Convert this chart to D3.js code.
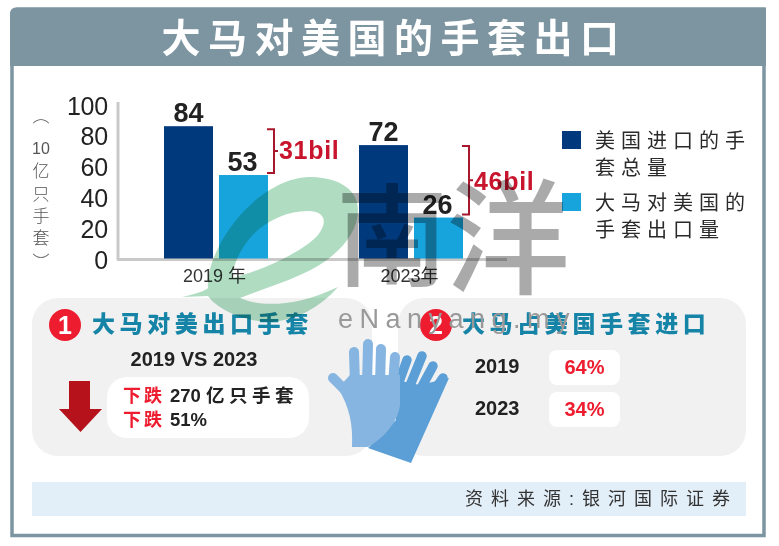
<!DOCTYPE html>
<html><head><meta charset="utf-8">
<script src="https://cdn.jsdelivr.net/npm/d3@7"></script>
<style>html,body{margin:0;background:#fff}svg{display:block}
text{font-family:"Liberation Sans","Noto Sans CJK SC",sans-serif}</style></head>
<body><script>
const titleText = "大马对美国的手套出口";
const categories = ["2019", "2023"];
const categoryLabels = ["2019 年", "2023年"];
const usImports = [84, 72];
const myExports = [53, 26];
const gapLabels = ["31bil", "46bil"];
const yTicks = [0, 20, 40, 60, 80, 100];
const yTitleParts = ["︵", "10", "亿", "只", "手", "套", "︶"];
const legendRows = [["美国进口的手", "套总量"], ["大马对美国的", "手套出口量"]];
const shareYears = ["2019", "2023"];
const shareValues = ["64%", "34%"];
const colors = ["#003a7d", "#17a3dc"];

const svg = d3.select("body").append("svg").attr("width", 779).attr("height", 546);
const red = "#ed1c2e", dark = "#222", teal = "#1584a6", frame = "#7d95a1";
const sp = (sel, v) => sel.style("letter-spacing", v + "px");

// frame + title
svg.append("path").attr("d", "M12 535.500V14Q12 9 17 9H764V535.500Z").attr("fill", "#fff").attr("stroke", frame).attr("stroke-width", 3.500);
svg.append("path").attr("d", "M10 66V14Q10 8 16 8H766V66Z").attr("fill", frame);
svg.append("text").attr("x", 394).attr("y", 52).attr("text-anchor", "middle").attr("fill", "#fff")
  .attr("font-size", 39).attr("font-weight", 700).style("letter-spacing", "7.500px").text(titleText);

// scales
const y = d3.scaleLinear().domain([0, 100]).range([258.500, 101]);
const yLabel = d3.scaleLinear().domain([0, 100]).range([260, 106]);
const x0 = d3.scaleBand().domain(categories).range([119, 509]);
const x1 = d3.scaleBand().domain([0, 1]).range([45, 149]).paddingInner(6 / 55);

// axes
const yAxis = svg.append("g").attr("transform", "translate(110,0)")
  .call(d3.axisLeft(yLabel).tickValues(yTicks).tickSize(0).tickPadding(2));
yAxis.select(".domain").remove();
yAxis.selectAll("text").attr("font-size", 25).attr("fill", dark)
  .style("font-family", "Liberation Sans").style("letter-spacing", "-0.200px");
svg.append("line").attr("x1", 118).attr("x2", 118).attr("y1", 102).attr("y2", 260).attr("stroke", "#c9c9c9").attr("stroke-width", 3);
svg.append("line").attr("x1", 117).attr("x2", 507).attr("y1", 259.500).attr("y2", 259.500).attr("stroke", "#c9c9c9").attr("stroke-width", 3);

const xLabelOffsets = [-2, -2];
categories.forEach((c, i) => {
  svg.append("text").attr("x", x0(c) + x0.bandwidth() / 2 + xLabelOffsets[i]).attr("y", 282)
    .attr("text-anchor", "middle").attr("font-size", 18).attr("fill", "#333").text(categoryLabels[i]);
});

// y title
const yTitleY = [122, 154, 177, 200, 222, 244, 268];
yTitleParts.forEach((t, i) => svg.append("text").attr("x", 41).attr("y", yTitleY[i])
  .attr("text-anchor", "middle").attr("font-size", i === 1 ? 16 : 17).attr("font-weight", 300).attr("fill", "#555").text(t));

// bars
[usImports, myExports].forEach((vals, s) => {
  svg.append("g").selectAll("rect").data(vals).join("rect")
    .attr("x", (d, i) => x0(categories[i]) + x1(s))
    .attr("width", x1.bandwidth())
    .attr("y", d => y(d)).attr("height", d => y(0) - y(d))
    .attr("fill", colors[s]);
  svg.append("g").selectAll("text").data(vals).join("text")
    .attr("x", (d, i) => x0(categories[i]) + x1(s) + x1.bandwidth() / 2 - (s ? 1 : 0))
    .attr("y", d => y(d) - 4).attr("text-anchor", "middle")
    .attr("font-size", 27).attr("font-weight", 700).attr("fill", dark).text(d => d);
});

// gap brackets
categories.forEach((c, i) => {
  const xr = x0(c) + x1(1) + x1.bandwidth();
  const top = y(usImports[i]) + (i ? 1 : 3), bot = y(myExports[i]) - (i ? 3 : 2);
  const mid = (top + bot) / 2;
  svg.append("path").attr("d", `M${xr - 1} ${top}H${xr + 6}V${bot}H${xr - 1}M${xr + 6} ${mid}H${xr + 10}`)
    .attr("fill", "none").attr("stroke", "#a8182c").attr("stroke-width", 2);
  svg.append("text").attr("x", xr + 11).attr("y", mid + 8 + (i ? 2 : 0)).attr("font-size", 25).attr("font-weight", 700)
    .attr("fill", "#c8152d").style("letter-spacing", "0.700px").text(gapLabels[i]);
});

// legend
legendRows.forEach((rows, i) => {
  const base = i === 0 ? 131 : 193;
  svg.append("rect").attr("x", 562).attr("y", base).attr("width", 19).attr("height", 18).attr("fill", colors[i]);
  rows.forEach((t, j) => {
    sp(svg.append("text").attr("x", 595).attr("y", base + 17 + j * 27).attr("font-size", 20)
      .attr("fill", "#2a2a2a").attr("font-weight", 400).text(t), 6);
  });
});

// panels
const panel = (x, w) => svg.append("rect").attr("x", x).attr("y", 298).attr("width", w).attr("height", 158).attr("rx", 26).attr("fill", "#f1f1f2");
panel(32, 340); panel(398, 348);
const badge = (cx, n) => {
  svg.append("circle").attr("cx", cx).attr("cy", 325).attr("r", 16).attr("fill", red);
  svg.append("text").attr("x", cx).attr("y", 334).attr("text-anchor", "middle").attr("font-size", 25).attr("font-weight", 700).attr("fill", "#fff").text(n);
};
badge(65, 1); badge(436, 2);
const head = (x, t) => sp(svg.append("text").attr("x", x).attr("y", 332).attr("font-size", 23).attr("font-weight", 900).attr("fill", teal).text(t), 4.600);
head(92, "大马对美出口手套"); head(462, "大马占美国手套进口");

svg.append("text").attr("x", 194).attr("y", 366).attr("text-anchor", "middle").attr("font-size", 20).attr("font-weight", 700).attr("fill", dark).text("2019 VS 2023");
svg.append("path").attr("d", "M69 381H90V409H102L80.500 432L59 409H69Z").attr("fill", "#b5121b");
svg.append("rect").attr("x", 107).attr("y", 377).attr("width", 202).attr("height", 61).attr("rx", 20).attr("fill", "#fff");
const drop = (yy, num, rest) => {
  sp(svg.append("text").attr("x", 123).attr("y", yy).attr("font-size", 18).attr("font-weight", 700).attr("fill", red).text("下跌"), 3);
  const t = svg.append("text").attr("x", 170).attr("y", yy).attr("font-size", 18.500).attr("font-weight", 700).attr("fill", dark);
  t.append("tspan").text(num);
  if (rest) sp(t.append("tspan").attr("dx", 5).text(rest), 4.500);
};
drop(402, "270", "亿只手套"); drop(426, "51%", "");

shareYears.forEach((yr, i) => {
  const cy = i ? 408 : 366;
  svg.append("text").attr("x", 475).attr("y", cy + 7).attr("font-size", 20).attr("font-weight", 700).attr("fill", dark).text(yr);
  svg.append("rect").attr("x", 549).attr("y", cy - 16).attr("width", 71).attr("height", 35).attr("rx", 8).attr("fill", "#fff");
  svg.append("text").attr("x", 584.500).attr("y", cy + 8).attr("text-anchor", "middle").attr("font-size", 20).attr("font-weight", 700).attr("fill", red).text(shareValues[i]);
});

// source
svg.append("rect").attr("x", 32).attr("y", 482).attr("width", 714).attr("height", 34).attr("fill", "#e3eff8");
sp(svg.append("text").attr("x", 465).attr("y", 505).attr("font-size", 18).attr("font-weight", 400).attr("fill", "#333").text("资料来源:银河国际证券"), 8);

// glove decoration
const fingers = (g, list, w) => list.forEach(d => g.append("path").attr("d", d).attr("fill", "none")
  .attr("stroke", "currentColor").attr("stroke-width", w).attr("stroke-linecap", "round"));
const back = svg.append("g").style("color", "#5b9fd6").attr("fill", "#5b9fd6");
back.append("path").attr("d", "M396 380L420 385L449 378L411 463L368 448L396 420Z");
fingers(back, ["M407 360L399 382", "M422 356L409 388", "M433 366L419 392", "M443 378L429 398"], 9.500);
const front = svg.append("g").style("color", "#85b5e0").attr("fill", "#85b5e0");
front.append("path").attr("d", "M350 375H400V405C398 422 384 438 368 447H352C353 425 350 408 338 388Z");
fingers(front, ["M333 378L350 395", "M354 352L355 384", "M368 344L367 384", "M381 349L380 384", "M395 357L393 384"], 10);

// watermark
const wm = svg.append("g").style("pointer-events", "none");
wm.append("path").attr("fill-rule", "evenodd").attr("fill", "#b0dcc2").style("mix-blend-mode", "multiply")
  .attr("d", "M182 297C195 294 205 291 208 288C206 265 225 225 258 198C280 182 295 177 312 177C340 178 358 190 358 210C358 235 335 260 300 275C280 284 260 290 240 298C255 305 290 310 338 287C320 308 295 320 272 322C245 322 218 310 208 296C200 296 190 297 182 297ZM232 278C265 270 305 250 318 235C328 222 325 212 310 211C290 210 265 220 250 238C240 250 233 265 232 278Z");
wm.append("text").attr("x", 392).attr("y", 278).attr("text-anchor", "middle").attr("font-size", 112).attr("font-weight", 500)
  .attr("fill", "#aaa").style("mix-blend-mode", "multiply").text("南");
wm.append("text").attr("x", 508).attr("y", 284).attr("text-anchor", "middle").attr("font-size", 124).attr("font-weight", 500)
  .attr("fill", "#aaa").style("mix-blend-mode", "multiply").text("洋");
sp(wm.append("text").attr("x", 338).attr("y", 328).attr("font-size", 27).attr("fill", "#999").text("eNanyang.my"), 6.500);
</script></body></html>
